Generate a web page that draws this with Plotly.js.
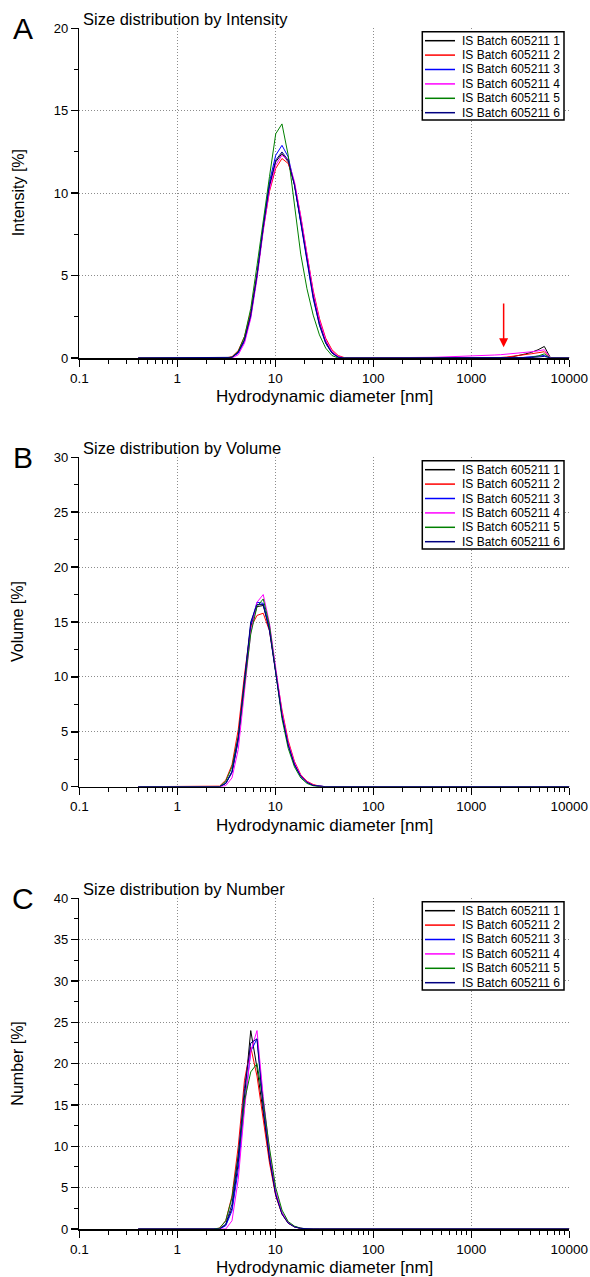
<!DOCTYPE html>
<html><head><meta charset="utf-8">
<script src="https://cdn.plot.ly/plotly-3.0.1.min.js"></script>
<style>html,body{margin:0;padding:0;background:#fff}</style>
</head><body><div id="chart" style="width:590px;height:1277px"></div>
<script>
// ---------- data ----------
const sizes = [0.4,0.4632,0.5365,0.6213,0.7195,0.8332,0.9649,1.117,1.294,1.499,
  1.736,2.01,2.328,2.696,3.122,3.615,4.187,4.849,5.615,6.503,
  7.531,8.721,10.1,11.7,13.54,15.69,18.17,21.04,24.36,28.21,
  32.67,37.84,43.82,50.75,58.77,68.06,78.82,91.28,105.7,122.4,
  141.8,164.2,190.1,220.2,255.0,295.3,342.0,396.1,458.7,531.2,
  615.1,712.4,825.0,955.4,1106,1281,1484,1718,1990,2305,
  2669,3091,3580,4145,4801,5560,6439,7456,8635,10000];

const seriesNames = ['IS Batch 605211 1','IS Batch 605211 2','IS Batch 605211 3',
  'IS Batch 605211 4','IS Batch 605211 5','IS Batch 605211 6'];
const seriesColors = ['#000000','#ff0000','#0000ff','#ff00ff','#008000','#000080'];

const intensity1 = [0,0,0,0,0,0,0,0,0,0, 0,0,0,0,0,0.05,0.35,1.1,2.6,5.0,
  7.9,10.4,11.9,12.4,11.9,10.5,8.4,6.1,3.9,2.2, 1.0,0.35,0.07,0,0,0,0,0,0,0,
  0,0,0,0,0,0,0,0,0,0, 0,0,0,0,0,0,0,0,0,0.03, 0.08,0.15,0.25,0.35,0.5,0.7,0,0,0,0];
const intensity2 = [0,0,0,0,0,0,0,0,0,0, 0,0,0,0,0,0.08,0.45,1.3,2.8,5.1,
  7.8,10.1,11.5,12.1,11.8,10.6,8.6,6.3,4.1,2.4, 1.2,0.5,0.15,0.02,0,0,0,0,0,0,
  0,0,0,0,0,0,0,0,0,0, 0,0,0,0,0,0,0,0,0.03,0.06, 0.1,0.15,0.2,0.26,0.32,0.38,0,0,0,0];
const intensity3 = [0,0,0,0,0,0,0,0,0,0, 0,0,0,0,0,0.03,0.3,1.0,2.5,5.0,
  8.0,10.7,12.3,12.9,12.2,10.5,8.2,5.8,3.6,2.0, 0.9,0.3,0.05,0,0,0,0,0,0,0,
  0,0,0,0,0,0,0,0,0,0, 0,0,0,0,0,0,0,0,0,0, 0,0,0.05,0.08,0.12,0.15,0,0,0,0];
const intensity4 = [0,0,0,0,0,0,0,0,0,0, 0,0,0,0,0,0,0.2,0.9,2.4,4.8,
  7.7,10.2,11.7,12.3,12.0,10.7,8.6,6.2,4.0,2.3, 1.1,0.4,0.1,0,0,0,0,0,0,0,
  0,0,0,0,0.01,0.02,0.03,0.04,0.05,0.06, 0.07,0.08,0.09,0.1,0.12,0.14,0.16,0.18,0.2,0.23,
  0.26,0.3,0.34,0.38,0.43,0.5,0,0,0,0];
const intensity5 = [0,0,0,0,0,0,0,0,0,0, 0,0,0,0,0,0.05,0.4,1.3,3.0,5.6,
  8.4,11.0,13.6,14.2,12.3,9.2,6.3,4.2,2.6,1.4, 0.6,0.15,0,0,0,0,0,0,0,0,
  0,0,0,0,0,0,0,0,0,0, 0,0,0,0,0,0,0,0,0,0, 0,0,0,0.05,0.12,0.25,0,0,0,0];
const intensity6 = [0,0,0,0,0,0,0,0,0,0, 0,0,0,0,0,0.04,0.35,1.1,2.6,5.0,
  7.9,10.5,12.0,12.5,12.0,10.5,8.3,5.9,3.7,2.0, 0.9,0.3,0.05,0,0,0,0,0,0,0,
  0,0,0,0,0,0,0,0,0,0, 0,0,0,0,0,0,0,0,0,0, 0,0,0,0.03,0.06,0.1,0,0,0,0];

const volume1 = [0,0,0,0,0,0,0,0,0,0, 0,0,0,0,0.3,1.3,4.2,9.4,14.6,16.4,
  16.5,14.4,10.4,6.6,3.9,2.1,1.0,0.45,0.15,0.04, 0,0,0,0,0,0,0,0,0,0,
  0,0,0,0,0,0,0,0,0,0, 0,0,0,0,0,0,0,0,0,0, 0,0,0,0,0,0,0,0,0,0];
const volume2 = [0,0,0,0,0,0,0,0,0,0, 0,0,0,0.05,0.6,2.0,5.2,10.2,14.5,15.6,
  15.8,14.2,10.5,7.0,4.2,2.3,1.1,0.5,0.2,0.05, 0,0,0,0,0,0,0,0,0,0,
  0,0,0,0,0,0,0,0,0,0, 0,0,0,0,0,0,0,0,0,0, 0,0,0,0,0,0,0,0,0,0];
const volume3 = [0,0,0,0,0,0,0,0,0,0, 0,0,0,0,0.3,1.3,4.3,9.6,14.8,16.8,
  16.7,14.4,10.3,6.5,3.8,2.0,0.95,0.4,0.12,0.03, 0,0,0,0,0,0,0,0,0,0,
  0,0,0,0,0,0,0,0,0,0, 0,0,0,0,0,0,0,0,0,0, 0,0,0,0,0,0,0,0,0,0];
const volume4 = [0,0,0,0,0,0,0,0,0,0, 0,0,0,0,0.1,0.8,3.4,8.6,14.0,16.8,
  17.5,14.9,10.6,6.8,4.0,2.2,1.05,0.45,0.15,0.04, 0,0,0,0,0,0,0,0,0,0,
  0,0,0,0,0,0,0,0,0,0, 0,0,0,0,0,0,0,0,0,0, 0,0,0,0,0,0,0,0,0,0];
const volume5 = [0,0,0,0,0,0,0,0,0,0, 0,0,0,0,0.5,1.8,4.6,9.2,13.9,16.4,
  17.1,14.7,10.2,6.2,3.5,1.8,0.8,0.3,0.08,0, 0,0,0,0,0,0,0,0,0,0,
  0,0,0,0,0,0,0,0,0,0, 0,0,0,0,0,0,0,0,0,0, 0,0,0,0,0,0,0,0,0,0];
const volume6 = [0,0,0,0,0,0,0,0,0,0, 0,0,0,0,0.3,1.4,4.5,9.8,15.0,16.6,
  16.6,14.2,10.2,6.5,3.8,2.0,0.95,0.4,0.12,0.03, 0,0,0,0,0,0,0,0,0,0,
  0,0,0,0,0,0,0,0,0,0, 0,0,0,0,0,0,0,0,0,0, 0,0,0,0,0,0,0,0,0,0];

const number1 = [0,0,0,0,0,0,0,0,0,0, 0,0,0,0,0.5,2.5,8.0,16.5,24.0,19.5,
  14.0,8.5,4.2,1.9,0.75,0.28,0.08,0,0,0, 0,0,0,0,0,0,0,0,0,0,
  0,0,0,0,0,0,0,0,0,0, 0,0,0,0,0,0,0,0,0,0, 0,0,0,0,0,0,0,0,0,0];
const number2 = [0,0,0,0,0,0,0,0,0,0, 0,0,0,0.1,1.0,4.0,10.0,18.0,22.0,18.5,
  13.0,8.0,4.0,1.8,0.7,0.25,0.07,0,0,0, 0,0,0,0,0,0,0,0,0,0,
  0,0,0,0,0,0,0,0,0,0, 0,0,0,0,0,0,0,0,0,0, 0,0,0,0,0,0,0,0,0,0];
const number3 = [0,0,0,0,0,0,0,0,0,0, 0,0,0,0,0.4,2.2,7.2,15.0,21.5,23.0,
  15.5,9.0,4.3,1.9,0.75,0.27,0.08,0,0,0, 0,0,0,0,0,0,0,0,0,0,
  0,0,0,0,0,0,0,0,0,0, 0,0,0,0,0,0,0,0,0,0, 0,0,0,0,0,0,0,0,0,0];
const number4 = [0,0,0,0,0,0,0,0,0,0, 0,0,0,0,0,1.0,6.0,14.5,21.5,24.0,
  16.0,9.5,4.6,2.0,0.8,0.3,0.08,0,0,0, 0,0,0,0,0,0,0,0,0,0,
  0,0,0,0,0,0,0,0,0,0, 0,0,0,0,0,0,0,0,0,0, 0,0,0,0,0,0,0,0,0,0];
const number5 = [0,0,0,0,0,0,0,0,0,0, 0,0,0,0.1,1.0,3.8,9.0,15.5,19.0,20.0,
  15.5,9.8,5.0,2.3,0.9,0.35,0.1,0,0,0, 0,0,0,0,0,0,0,0,0,0,
  0,0,0,0,0,0,0,0,0,0, 0,0,0,0,0,0,0,0,0,0, 0,0,0,0,0,0,0,0,0,0];
const number6 = [0,0,0,0,0,0,0,0,0,0, 0,0,0,0,0.6,3.0,8.8,17.0,22.5,23.0,
  14.5,8.5,4.1,1.8,0.7,0.25,0.07,0,0,0, 0,0,0,0,0,0,0,0,0,0,
  0,0,0,0,0,0,0,0,0,0, 0,0,0,0,0,0,0,0,0,0, 0,0,0,0,0,0,0,0,0,0];

const xTickVals = [0.1,1,10,100,1000,10000];
const xTickText = ['0.1','1','10','100','1000','10000'];
const panelLetters = ['A','B','C'];
const panelTitles = ['Size distribution by Intensity','Size distribution by Volume','Size distribution by Number'];
const yTitles = ['Intensity [%]','Volume [%]','Number [%]'];
const yMax = [20,30,40];
const xTitle = 'Hydrodynamic diameter [nm]';
const arrowSize = 2138, arrowTop = 3.4, arrowTip = 0.65;

// ---------- layout ----------
const panels = [
  [intensity1,intensity2,intensity3,intensity4,intensity5,intensity6],
  [volume1,volume2,volume3,volume4,volume5,volume6],
  [number1,number2,number3,number4,number5,number6]
];
const W = 590, H = 1277;
const FONT = '"Liberation Sans", Arial, Helvetica, sans-serif';
const plotLeft = 79.3, plotRight = 569.3;
const panelTop = [28.3, 457.3, 898.3];
const panelBottom = [358, 786.7, 1229];
const px = x => x / W, py = y => 1 - y / H;
const GRID = '#8c8c8c', GRIDDASH = '1px,2px';

const minorVals = [];
for (let e = -1; e < 4; e++) for (let d = 2; d <= 9; d++) minorVals.push(+(d * Math.pow(10, e)).toPrecision(3));

const data = [];
const layout = {
  width: W, height: H, margin: {l:0, r:0, t:0, b:0},
  paper_bgcolor: '#fff', plot_bgcolor: '#fff', showlegend: false,
  font: {family: FONT, color: '#000'},
  shapes: [], annotations: []
};

panels.forEach((series, p) => {
  const sfx = p ? String(p + 1) : '';
  series.forEach((vals, i) => {
    data.push({x: sizes, y: vals, type: 'scatter', mode: 'lines',
      line: {color: seriesColors[i], width: 1}, name: seriesNames[i],
      xaxis: 'x' + sfx, yaxis: 'y' + sfx, hoverinfo: 'skip'});
  });
  layout['xaxis' + sfx] = {
    type: 'log', range: [-1, 4], domain: [px(plotLeft), px(plotRight)], anchor: 'y' + sfx,
    tickmode: 'array', tickvals: xTickVals, ticktext: xTickText,
    ticks: 'outside', ticklen: 7, tickwidth: 1.5, tickcolor: '#000',
    showline: true, linecolor: '#000', linewidth: 1.5,
    showgrid: true, gridcolor: GRID, griddash: GRIDDASH, gridwidth: 1,
    zeroline: false, tickfont: {size: 13.5, family: FONT, color: '#000'},
    minor: {tickmode: 'array', tickvals: minorVals, ticks: 'outside', ticklen: 4, tickwidth: 1, tickcolor: '#000', showgrid: false},
    fixedrange: true
  };
  layout['yaxis' + sfx] = {
    range: [0, yMax[p]], domain: [py(panelBottom[p]), py(panelTop[p])], anchor: 'x' + sfx,
    tick0: 0, dtick: 5, ticks: 'outside', ticklen: 7, tickwidth: 1.5, tickcolor: '#000',
    showline: true, linecolor: '#000', linewidth: 1.5,
    showgrid: true, gridcolor: GRID, griddash: GRIDDASH, gridwidth: 1,
    zeroline: false, tickfont: {size: 13, family: FONT, color: '#000'},
    minor: {dtick: 2.5, ticks: 'outside', ticklen: 4, tickwidth: 1, tickcolor: '#000', showgrid: false},
    fixedrange: true
  };

  const top = panelTop[p], bot = panelBottom[p];
  layout.annotations.push({xref:'paper', yref:'paper', x: px(23.5), y: py(top + 0.5),
    xanchor:'center', yanchor:'middle', text: panelLetters[p], showarrow:false,
    font:{size:30, family:FONT, color:'#000'}});
  layout.annotations.push({xref:'paper', yref:'paper', x: px(81), y: py(top - 9),
    xanchor:'left', yanchor:'middle', text: panelTitles[p], showarrow:false,
    font:{size:16.5, family:FONT, color:'#000'}});
  layout.annotations.push({xref:'paper', yref:'paper', x: px(18), y: py((top + bot) / 2),
    xanchor:'center', yanchor:'middle', text: yTitles[p], textangle:-90, showarrow:false,
    font:{size:16, family:FONT, color:'#000'}});
  layout.annotations.push({xref:'paper', yref:'paper', x: px((plotLeft + plotRight) / 2), y: py(bot + 38.5),
    xanchor:'center', yanchor:'middle', text: xTitle, showarrow:false,
    font:{size:17, family:FONT, color:'#000'}});

  // legend box
  const lt = top + 3.4;
  layout.shapes.push({type:'rect', xref:'paper', yref:'paper', x0: px(422.3), x1: px(564),
    y0: py(lt), y1: py(lt + 88.3), line:{color:'#000', width:1.5}, fillcolor:'#fff', layer:'above'});
  seriesNames.forEach((nm, i) => {
    const cy = top + 12.4 + 14.4 * i;
    layout.shapes.push({type:'line', xref:'paper', yref:'paper', x0: px(425), x1: px(455),
      y0: py(cy), y1: py(cy), line:{color: seriesColors[i], width:1.5}, layer:'above'});
    layout.annotations.push({xref:'paper', yref:'paper', x: px(459.5), y: py(cy),
      xanchor:'left', yanchor:'middle', text: nm, showarrow:false,
      font:{size:12, family:FONT, color:'#000'}});
  });
});

layout.annotations.push({xref:'x', yref:'y', x: Math.log10(arrowSize), y: arrowTip,
  axref:'x', ayref:'y', ax: Math.log10(arrowSize), ay: arrowTop, text:'', showarrow:true,
  arrowhead:2, arrowsize:1.2, arrowwidth:1.5, arrowcolor:'#ff0000', standoff:0, startstandoff:0});

Plotly.newPlot('chart', data, layout, {staticPlot:true, displayModeBar:false});
</script></body></html>
